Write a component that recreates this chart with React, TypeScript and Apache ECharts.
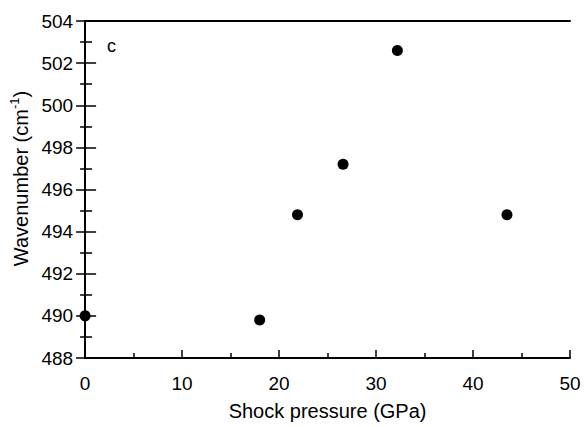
import React, { useEffect, useRef } from "react";
import * as echarts from "echarts";

const pressure = [0, 18, 21.9, 26.6, 32.2, 43.5];
const wavenumber = [490, 489.8, 494.8, 497.2, 502.6, 494.8];
const xTicks = [0, 10, 20, 30, 40, 50];
const yTicks = [488, 490, 492, 494, 496, 498, 500, 502, 504];
const panelLabel = "c";

export default function App() {
  const ref = useRef<HTMLDivElement>(null);
  useEffect(() => {
    if (!ref.current) return;
    const chart = echarts.init(ref.current, null, { renderer: "svg" });
    const font = "Liberation Sans, Arial, Helvetica, sans-serif";
    const axisLine = { show: true, lineStyle: { color: "#000", width: 2 } };
    const tickStyle = { color: "#000", width: 1.5 };
    chart.setOption({
      animation: false,
      backgroundColor: "#fff",
      grid: { left: 83, top: 21, right: 17, bottom: 69 },
      xAxis: [
        {
          type: "value",
          min: xTicks[0],
          max: xTicks[xTicks.length - 1],
          interval: 10,
          name: "Shock pressure (GPa)",
          nameLocation: "middle",
          nameGap: 43,
          nameTextStyle: { fontFamily: font, fontSize: 20, color: "#000" },
          axisLine,
          axisTick: { show: true, inside: true, length: 8, lineStyle: tickStyle },
          minorTick: { show: true, splitNumber: 2, length: 5, lineStyle: tickStyle },
          axisLabel: { fontFamily: font, fontSize: 19, color: "#000", margin: 16 },
          splitLine: { show: false },
        },
        {
          type: "value",
          position: "top",
          min: xTicks[0],
          max: xTicks[xTicks.length - 1],
          interval: 10,
          axisLine,
          axisTick: { show: false },
          axisLabel: { show: false },
          splitLine: { show: false },
        },
      ],
      yAxis: [
        {
          type: "value",
          min: yTicks[0],
          max: yTicks[yTicks.length - 1],
          interval: 2,
          name: "{a|Wavenumber (cm}{b|-1}{a|)}",
          nameLocation: "middle",
          nameRotate: 90,
          nameGap: 46,
          nameTextStyle: {
            fontFamily: font,
            color: "#000",
            padding: [0, 0, 0, 22],
            rich: {
              a: { fontFamily: font, fontSize: 20, color: "#000" },
              b: { fontFamily: font, fontSize: 13, color: "#000", padding: [0, 0, 12, 0] },
            },
          },
          axisLine,
          axisTick: { show: true, inside: true, length: 11, lineStyle: tickStyle },
          minorTick: { show: true, splitNumber: 2, length: 7, lineStyle: tickStyle },
          axisLabel: { fontFamily: font, fontSize: 19, color: "#000", margin: 12 },
          splitLine: { show: false },
        },
        {
          type: "value",
          position: "right",
          min: yTicks[0],
          max: yTicks[yTicks.length - 1],
          interval: 2,
          axisLine,
          axisTick: { show: true, inside: true, length: 9, lineStyle: tickStyle },
          minorTick: { show: true, splitNumber: 2, length: 5, lineStyle: tickStyle },
          axisLabel: { show: false },
          splitLine: { show: false },
        },
      ],
      graphic: [
        {
          type: "text",
          left: 107,
          top: 37,
          style: { text: panelLabel, fontFamily: font, fontSize: 18, fill: "#000" },
        },
      ],
      series: [
        {
          type: "scatter",
          data: pressure.map((p, i) => [p, wavenumber[i]]),
          symbol: "circle",
          symbolSize: 11,
          itemStyle: { color: "#000", opacity: 1 },
          clip: false,
        },
      ],
    });
    return () => chart.dispose();
  }, []);
  return <div ref={ref} style={{ width: 587, height: 427, position: "absolute", left: 0, top: 0 }} />;
}
